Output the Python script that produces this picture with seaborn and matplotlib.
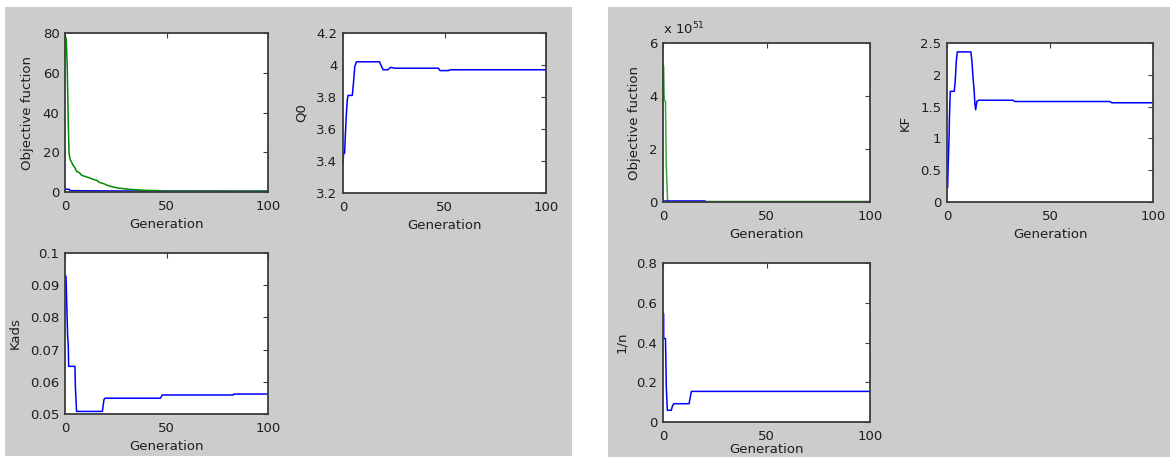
import matplotlib
matplotlib.use("Agg")
import matplotlib.pyplot as plt
from matplotlib.patches import Rectangle
import seaborn as sns

# ---------------- data ----------------
# Left figure: objective function (green = mean, blue = best)
obj_l_green_gen = [0.3, 0.6, 1.1, 1.6, 2.0, 2.5, 3, 4, 5, 5.7, 7, 8.2, 10, 12.3, 14, 15.6, 17, 19, 20.5, 22, 23.8, 26, 28.7, 31, 33.6, 37, 40, 45, 48, 60, 100]
obj_l_green_val = [78, 77, 63, 35, 19.6, 16.5, 15.5, 13.4, 12, 10.4, 9.8, 8.4, 7.8, 7.0, 6.3, 5.9, 4.8, 4.2, 3.5, 3.0, 2.5, 2.0, 1.7, 1.4, 1.2, 1.0, 0.8, 0.7, 0.4, 0.4, 0.4]
obj_l_blue_gen = [0.3, 2.0, 2.5, 10, 30, 100]
obj_l_blue_val = [1.4, 1.4, 0.7, 0.6, 0.5, 0.4]

q0_gen = [0.0, 0.3, 0.8, 1.2, 1.6, 2.1, 2.5, 4.6, 5.3, 5.8, 6.6, 18, 19, 19.8, 22, 23.5, 25.5, 47, 47.8, 52, 52.7, 100]
q0_val = [3.38, 3.45, 3.45, 3.575, 3.68, 3.78, 3.81, 3.81, 3.91, 3.99, 4.02, 4.02, 3.99, 3.97, 3.97, 3.985, 3.98, 3.98, 3.965, 3.965, 3.97, 3.97]

kads_gen = [0.3, 0.5, 0.8, 1.3, 1.6, 1.8, 4.9, 5.1, 5.7, 18.4, 19.2, 19.7, 47, 47.9, 82.8, 83.2, 100]
kads_val = [0.0928, 0.0928, 0.0855, 0.0741, 0.0715, 0.0648, 0.0648, 0.0586, 0.0508, 0.0508, 0.0545, 0.0549, 0.0549, 0.0559, 0.0559, 0.0562, 0.0562]

# Right figure: objective function in units of 1e51
obj_r_green_gen = [0.3, 0.6, 1.2, 1.6, 2.2, 2.6, 100]
obj_r_green_val = [5.15, 3.85, 3.8, 1.35, 0.08, 0.02, 0.02]
obj_r_blue_gen = [0.3, 20.5]
obj_r_blue_val = [0.03, 0.03]

kf_gen = [0.3, 0.6, 1.0, 1.2, 1.6, 3.5, 4.0, 4.5, 5.0, 11.6, 12.1, 12.6, 13.2, 13.5, 13.9, 14.5, 15.3, 32, 33, 79, 80, 100]
kf_val = [0.22, 0.61, 1.03, 1.35, 1.74, 1.74, 1.9, 2.21, 2.36, 2.36, 2.21, 1.97, 1.74, 1.56, 1.45, 1.58, 1.6, 1.6, 1.58, 1.58, 1.56, 1.56]

n_gen = [0.3, 0.35, 1.2, 1.6, 1.9, 2.1, 4.0, 4.5, 5.2, 12.6, 13.2, 13.7, 100]
n_val = [0.545, 0.42, 0.42, 0.176, 0.104, 0.059, 0.059, 0.079, 0.092, 0.092, 0.126, 0.154, 0.154]

x_ticks = [0, 50, 100]
x_ticklabels = ["0", "50", "100"]

# ---------------- style ----------------
sns.set_style("white")
plt.rcParams["font.family"] = ["DejaVu Sans"]
FRAME = "#3c3c3c"
TXT = "#1e1e1e"
BLUE = "#0000ff"
FS = 9.5

W, H = 1170, 457
fig = plt.figure(figsize=(W / 100, H / 100), dpi=100, facecolor="white")

# grey figure backgrounds (two MATLAB windows)
fig.add_artist(Rectangle((5 / W, 1 - 456 / H), 567 / W, 449 / H, transform=fig.transFigure,
                         facecolor="#cccccc", edgecolor="none", zorder=-10))
fig.add_artist(Rectangle((608 / W, 0), 562 / W, 450 / H, transform=fig.transFigure,
                         facecolor="#cccccc", edgecolor="none", zorder=-10))


def make_ax(left, right, top, bottom):
    return fig.add_axes([left / W, 1 - bottom / H, (right - left) / W, (bottom - top) / H])


def style(ax, ylim, yticks, ylabels, ylabel, xlabelpad=4):
    ax.set_facecolor("white")
    ax.set_xlim(0, 100)
    ax.set_ylim(*ylim)
    ax.set_xticks(x_ticks)
    ax.set_xticklabels(x_ticklabels)
    ax.set_yticks(yticks)
    ax.set_yticklabels(ylabels)
    ax.tick_params(direction="in", top=True, right=True, labeltop=False, labelright=False,
                   length=3.5, width=0.8, color=FRAME, labelsize=FS, labelcolor=TXT)
    ax.tick_params(axis="x", pad=5.5)
    ax.tick_params(axis="y", pad=4)
    for s in ax.spines.values():
        s.set_color(FRAME)
        s.set_linewidth(1.3)
    ax.set_xlabel("Generation", fontsize=FS, color=TXT, labelpad=xlabelpad)
    ax.set_ylabel(ylabel, fontsize=FS, color=TXT, labelpad=6)


def line(ax, x, y, color, lw=1.1):
    sns.lineplot(x=x, y=y, ax=ax, color=color, linewidth=lw, estimator=None, sort=False)


# --- left window ---
ax1 = make_ax(65, 268, 33, 192)
line(ax1, obj_l_blue_gen, obj_l_blue_val, BLUE)
line(ax1, obj_l_green_gen, obj_l_green_val, "#008a00")
style(ax1, (0, 80), [0, 20, 40, 60, 80], ["0", "20", "40", "60", "80"], "Objective fuction")

ax2 = make_ax(343, 546, 33, 193)
line(ax2, q0_gen, q0_val, BLUE)
style(ax2, (3.2, 4.2), [3.2, 3.4, 3.6, 3.8, 4.0, 4.2], ["3.2", "3.4", "3.6", "3.8", "4", "4.2"], "Q0")

ax3 = make_ax(65, 268, 253, 414)
line(ax3, kads_gen, kads_val, BLUE)
style(ax3, (0.05, 0.1), [0.05, 0.06, 0.07, 0.08, 0.09, 0.1],
      ["0.05", "0.06", "0.07", "0.08", "0.09", "0.1"], "Kads")

# --- right window ---
ax4 = make_ax(663, 870, 43, 202)
line(ax4, obj_r_green_gen, obj_r_green_val, "#3aa83a")
line(ax4, obj_r_blue_gen, obj_r_blue_val, BLUE)
style(ax4, (0, 6), [0, 2, 4, 6], ["0", "2", "4", "6"], "Objective fuction")
ax4.text(0.0, 1.035, r"x 10$^{51}$", transform=ax4.transAxes, fontsize=FS, color=TXT,
         ha="left", va="bottom")

ax5 = make_ax(947, 1153, 43, 202)
line(ax5, kf_gen, kf_val, BLUE)
style(ax5, (0, 2.5), [0, 0.5, 1, 1.5, 2, 2.5], ["0", "0.5", "1", "1.5", "2", "2.5"], "KF")

ax6 = make_ax(663, 870, 263, 422)
line(ax6, n_gen, n_val, BLUE)
style(ax6, (0, 0.8), [0, 0.2, 0.4, 0.6, 0.8], ["0", "0.2", "0.4", "0.6", "0.8"], "1/n",
      xlabelpad=0.5)

fig.savefig("out.png", dpi=100, facecolor="white")
